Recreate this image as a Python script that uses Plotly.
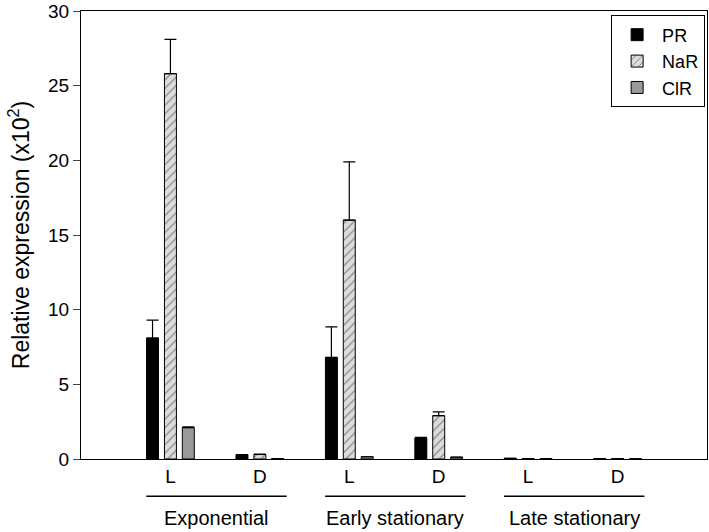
import plotly.graph_objects as go

# bar positions: L / D for each growth phase
conditions = ['L', 'D', 'L', 'D', 'L', 'D']
phases = ['Exponential', 'Early stationary', 'Late stationary']

pr = [8.1, 0.3, 6.8, 1.4, 0.05, 0.02]
pr_err = [1.2, 0.0, 2.05, 0.05, 0.0, 0.0]
nar = [25.8, 0.3, 16.0, 2.9, 0.03, 0.02]
nar_err = [2.3, 0.02, 3.9, 0.25, 0.0, 0.0]
clr = [2.1, 0.03, 0.15, 0.12, 0.02, 0.01]
clr_err = [0.05, 0.0, 0.0, 0.0, 0.0, 0.0]

x = list(range(len(conditions)))
font = 'Liberation Sans, Arial, sans-serif'


def err(vals):
    return dict(type='data', array=vals, arrayminus=[0] * len(vals),
                symmetric=False, color='black', thickness=1.2, width=6)


fig = go.Figure()
fig.add_trace(go.Bar(x=x, y=pr, name='PR', error_y=err(pr_err),
                     marker=dict(color='black', line=dict(color='black', width=1))))
fig.add_trace(go.Bar(x=x, y=nar, name='NaR', error_y=err(nar_err),
                     marker=dict(color='#dcdcdc', line=dict(color='black', width=1),
                                 pattern=dict(shape='/', fgcolor='#333333', bgcolor='#dcdcdc',
                                              size=6, solidity=0.2))))
fig.add_trace(go.Bar(x=x, y=clr, name='ClR', error_y=err(clr_err),
                     marker=dict(color='#9a9a9a', line=dict(color='black', width=1))))

# group underlines and labels
for i, name in enumerate(phases):
    left = x[2 * i] - 0.27
    right = x[2 * i + 1] + 0.3
    fig.add_shape(type='line', xref='x', yref='paper', x0=left, x1=right,
                  y0=-0.083, y1=-0.083, line=dict(color='black', width=1.5))
    fig.add_annotation(x=(left + right) / 2, y=-0.131, xref='x', yref='paper',
                       text=name, showarrow=False, yanchor='middle',
                       font=dict(family=font, size=20, color='black'))

fig.update_layout(
    width=709, height=532,
    margin=dict(l=81, r=1, t=8, b=73),
    barmode='group', bargap=0.4, bargroupgap=0.33,
    plot_bgcolor='white', paper_bgcolor='white',
    font=dict(family=font, size=19, color='black'),
    showlegend=True,
    legend=dict(x=0.997, y=0.99, xanchor='right', yanchor='top',
                bordercolor='black', borderwidth=1, bgcolor='white',
                font=dict(size=18), tracegroupgap=5, itemwidth=40),
)
fig.update_xaxes(range=[-1, 6], tickmode='array', tickvals=x, ticktext=conditions,
                 showline=True, linecolor='black', linewidth=1, mirror=True,
                 ticks='', showgrid=False, zeroline=False, tickfont=dict(size=19))
fig.update_yaxes(range=[0, 30], dtick=5, ticks='outside', ticklen=7,
                 showline=True, linecolor='black', linewidth=1, mirror=True,
                 showgrid=False, zeroline=False, tickfont=dict(size=19),
                 ticklabeloverflow='allow',
                 title=dict(text='Relative expression (x10<sup>2</sup>)', standoff=12,
                            font=dict(size=23)))

fig.write_html('out.html', config={'displayModeBar': False},
               post_script="document.body.style.margin='0';")
